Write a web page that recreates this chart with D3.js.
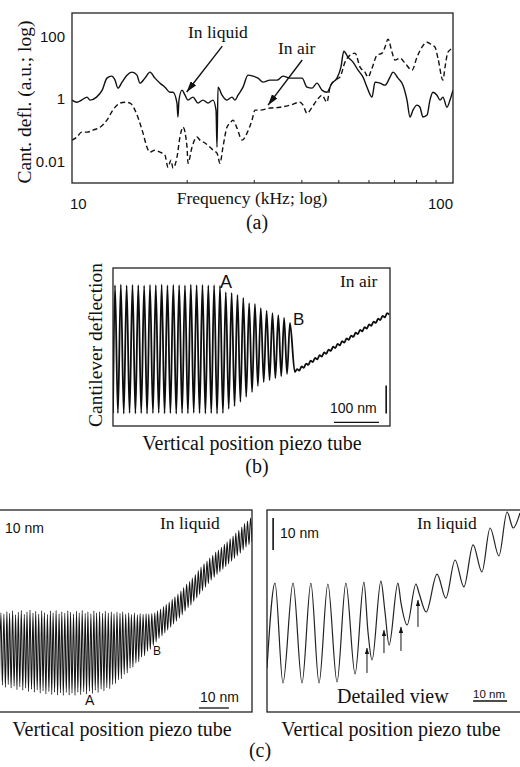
<!DOCTYPE html>
<html>
<head>
<meta charset="utf-8">
<script src="https://cdn.jsdelivr.net/npm/d3@7"></script>
<style>
html, body { margin: 0; padding: 0; background: #fff; }
svg { display: block; }
.serif { font-family: "Liberation Serif", "Times New Roman", serif; fill: #111; }
.sans { font-family: "Liberation Sans", Arial, sans-serif; fill: #111; }
</style>
</head>
<body>
<svg id="fig" width="520" height="767"></svg>
<script>
// ---------- (a) frequency response of the cantilever ----------
const freqLiquid = [10.0,10.3,10.6,10.95,11.15,11.6,12.0,12.35,12.7,12.97,13.2,13.53,13.94,14.37,14.81,15.08,15.54,16.02,16.51,17.02,17.54,18.08,18.41,18.86,18.97,19.09,19.44,19.8,20.16,20.78,21.41,22.07,22.75,23.45,23.88,24.02,24.17,24.76,25.51,26.3,26.78,27.27,28.11,28.97,29.86,30.78,31.72,33.09,34.51,35.8,37.34,38.96,40.16,41.39,42.66,43.95,45.3,46.69,48.12,49.6,50.8,51.7,53.0,54.65,56.33,58.06,59.48,61.3,62.42,64.33,66.3,68.34,69.58,71.72,73.9,75.73,77.12,78.52,80.44,81.9,83.4,85.5,87.0,88.6,90.78,92.5,94.1,96.4,98.2,100];
const deflLiquid = [0.90,0.77,0.90,1.12,0.90,1.12,1.87,4.53,5.25,3.91,2.17,3.37,5.65,7.05,5.65,3.13,4.53,7.05,4.53,3.13,2.33,1.61,1.61,0.72,0.26,0.90,1.87,1.29,0.90,1.12,0.72,0.90,0.72,0.90,0.43,0.028,2.33,1.29,0.90,1.12,0.90,1.29,2.33,5.65,5.25,4.53,3.37,3.91,3.91,5.25,4.53,4.53,4.53,2.33,2.17,3.13,1.87,1.61,3.13,4.53,10.2,33,21.3,14.7,8.17,4.88,2.33,1.12,3.37,3.13,2.7,4.88,7.05,4.53,2.7,0.90,0.26,0.43,0.62,0.53,0.26,0.30,0.90,1.61,1.29,0.90,1.12,0.53,0.90,1.87];
const freqAir = [10.0,10.3,10.6,10.95,11.35,11.85,12.35,12.8,13.37,13.77,14.2,14.63,15.08,15.36,15.73,16.02,16.51,17.02,17.54,17.86,18.19,18.41,18.86,19.2,19.56,20.04,20.16,20.65,21.28,21.67,22.34,23.03,23.45,24.02,24.46,24.9,25.51,25.98,26.46,27.11,27.94,28.8,29.68,30.22,31.15,33.09,35.15,37.34,39.67,40.4,41.39,42.66,43.95,45.3,46.69,47.54,49.0,50.5,52.06,53.67,55.32,57.02,58.75,59.84,61.3,63.17,65.11,66.3,67.52,69.17,70.43,72.6,74.82,78.06,80.44,82.9,85.5,88.1,89.7,91.3,94.1,95.3,97.0,100];
const deflAir = [0.047,0.059,0.085,0.085,0.098,0.122,0.205,0.43,0.72,0.77,0.72,0.43,0.164,0.079,0.028,0.0194,0.0225,0.0194,0.0156,0.0064,0.0108,0.006,0.0134,0.059,0.122,0.028,0.0086,0.028,0.059,0.047,0.038,0.028,0.0225,0.018,0.0086,0.028,0.122,0.164,0.205,0.114,0.047,0.079,0.205,0.43,0.43,0.50,0.53,0.62,0.77,0.62,0.34,0.53,0.90,1.29,0.77,2.33,3.91,4.88,14.7,24.7,28.6,10.2,7.05,4.88,9.46,24.7,28.6,44.5,80,30.8,17.1,19.8,13.7,8.17,21.3,44.5,64,51.5,44.5,19.8,3.91,10.2,30.8,41.3];
const freqLabels = [10, 100];
const freqMinorTicks = [20, 30, 40, 50, 60, 70, 80, 90];
const deflLabels = [100, 1, 0.01];
// arrow annotations: [tailFreq, tailDefl, tipFreq, tipDefl]
const liquidArrow = [24.8, 48, 20.0, 1.63];
const airArrow = [40.2, 17.2, 32.7, 0.62];

// ---------- (b) approach curve in air (piezo position nm, deflection nm) ----------
const bApproachPos = [0,4.4,10.9,17.4,23.9,30.3,36.8,43.3,49.8,56.2,62.7,69.2,75.7,82.2,88.7,95.1,101.6,108.1,114.6,121.0,127.5,134.0,140.5,147.0,153.5,159.9,166.4,172.9,179.4,185.8,192.3,198.8,205.3,211.8,218.3,224.7,231.2,237.7,244.2,250.6,257.1,263.6,270.1,276.6,283.1,289.5,296.0,302.5,309.0,315.4,321.9,328.4,334.9,341.4,347.9,354.3,360.8,367.3,373.8,380.2,386.7,393.2,404];
const bApproachDefl = [46,503,46,505,44,502,47,504,45,503,46,501,44,504,46,503,47,505,45,502,46,504,44,503,46,502,45,505,47,503,46,504,45,502,46,503,44,500,46,478,61,475,71,468,86,457,104,439,121,436,143,421,157,411,164,403,171,396,178,386,186,368,193];
const bContactPos = [404,409,414,419,424,429,434,439,444,449,454,459,464,469,474,479,484,489,494,499,504,509,514,519,524,529,534,539,544,549,554,559,564,569,574,579,584,589,594,599,604,609,614];
const bContactDefl = [193,203,198,213,208,223,218,233,228,243,238,253,248,263,258,273,268,283,278,293,288,303,298,313,308,323,318,333,328,343,338,353,348,363,358,373,368,383,378,393,388,403,398];

// ---------- (c) approach curve in liquid, overview (one entry per oscillation cycle) ----------
const cPeakPos = [0.3,1.3,2.3,3.2,4.2,5.2,6.1,7.1,8.1,9.0,10.0,11.0,11.9,12.9,13.9,14.8,15.8,16.8,17.7,18.7,19.7,20.6,21.6,22.6,23.5,24.5,25.5,26.4,27.4,28.4,29.3,30.3,31.3,32.2,33.2,34.2,35.1,36.1,37.1,38.0,39.0,40.0,40.9,41.9,42.9,43.8,44.8,45.8,46.7,47.7,48.7,49.6,50.6,51.6,52.5,53.5,54.5,55.4,56.4,57.4,58.3,59.3,60.3,61.2,62.2,63.2,64.1,65.1,66.1,67.0,68.0,69.0,69.9,70.9,71.9,72.8,73.8,74.8,75.7,76.7,77.7,78.6,79.6,80.6,81.5,82.5,83.5];
const cPeakMax = [31.0,30.6,31.4,30.8,31.6,30.4,31.2,31.8,30.5,31.3,31.9,30.9,31.5,30.6,31.7,31.1,30.5,31.6,31.0,31.8,30.7,31.4,30.9,31.7,31.2,30.6,31.5,31.0,31.8,30.8,31.3,30.7,31.6,31.0,31.4,30.8,31.5,30.9,31.3,30.7,31.2,30.8,31.3,30.6,31.0,30.5,30.9,30.4,30.8,30.5,30.7,30.6,30.8,31.0,31.6,32.2,33.0,33.7,34.4,35.2,36.0,36.9,37.8,38.9,40.0,40.8,41.9,43.0,44.2,45.3,46.3,47.2,48.1,49.0,50.0,50.6,51.5,52.4,53.2,54.1,55.0,55.9,56.8,57.8,58.9,59.7,60.6];
const cPeakMin = [8.4,7.7,8.6,7.5,8.1,7.0,7.9,6.8,7.5,6.4,7.1,6.2,6.9,5.9,6.6,5.6,6.4,5.5,6.2,5.3,6.0,5.2,6.1,5.3,5.9,5.2,6.2,5.4,6.3,5.6,6.5,5.8,6.8,6.1,7.2,6.6,7.6,7.3,8.6,8.9,10.1,10.4,11.8,12.2,13.7,14.0,15.3,15.7,17.1,17.6,19.0,19.6,20.8,21.9,23.0,23.8,24.7,25.6,26.5,27.5,28.4,29.4,30.4,31.5,32.6,33.4,34.5,35.6,36.7,37.9,39.0,40.1,41.2,42.1,43.0,43.8,44.6,45.4,46.3,47.1,48.0,48.8,49.6,50.6,51.6,52.3,53.1];

// ---------- (c) detailed view (turning points, nm) ----------
const dPos = [0,2.35,4.7,7.65,10.3,12.9,15.3,17.9,20.6,23.2,25.9,28.5,29.7,30.9,33.5,34.7,35.9,38.5,39.4,41.2,43.8,44.7,46.8,50.0,52.6,55.3,57.9,60.6,63.2,65.6,68.2,70.6,72.4,74.4];
const dDefl = [13.75,40.3,9.1,40.3,9.1,40.3,9.1,40.0,9.4,40.3,11.9,40.6,25.0,16.25,40.9,31.25,20.9,40.3,34.1,27.2,40.0,37.2,31.25,43.1,35.6,47.5,39.1,52.2,43.75,57.5,48.75,62.5,57.5,62.2];
// arrows marking the jump-to-contact events: position, tail and tip deflection (nm)
const jumpPos = [29.4, 34.4, 39.4, 44.4];
const jumpTail = [12.2, 18.4, 19.1, 26.6];
const jumpTip = [20.0, 25.6, 26.6, 35.0];

// ---------------------------------------------------------------
const svg = d3.select('#fig');
svg.append('rect').attr('width', 520).attr('height', 767).attr('fill', '#fff');
const defs = svg.append('defs');

function arrowMarker(id, len, half) {
  defs.append('marker').attr('id', id)
    .attr('markerUnits', 'userSpaceOnUse')
    .attr('markerWidth', len).attr('markerHeight', half * 2)
    .attr('refX', len).attr('refY', half).attr('orient', 'auto')
    .append('path').attr('d', `M0,0 L${len},${half} L0,${half * 2} Z`).attr('fill', '#111');
}
arrowMarker('headBig', 11, 3.4);
arrowMarker('headSmall', 6, 2.2);

function clip(id, x, y, w, h) {
  defs.append('clipPath').attr('id', id).append('rect')
    .attr('x', x).attr('y', y).attr('width', w).attr('height', h);
  return `url(#${id})`;
}
function frame(g, x0, x1, y0, y1) {
  g.append('rect').attr('x', x0).attr('y', y0).attr('width', x1 - x0).attr('height', y1 - y0)
    .attr('fill', 'none').attr('stroke', '#222').attr('stroke-width', 1.3);
}
function text(g, cls, str, x, y, size, anchor, rot) {
  const t = g.append('text').attr('class', cls).attr('font-size', size)
    .attr('text-anchor', anchor || 'start').text(str);
  if (rot) t.attr('transform', `translate(${x},${y}) rotate(${rot})`);
  else t.attr('x', x).attr('y', y);
  return t;
}

// ---------- (a) ----------
const xA = d3.scaleLog().domain([10, 100]).range([72, 453]);
const yA = d3.scaleLog().domain([0.002, 550]).range([183, 13]);
const gA = svg.append('g');
const clipA = clip('clipA', 72, 13, 381, 170);
const lineA = d3.line().x(d => xA(d[0])).y(d => yA(d[1])).curve(d3.curveMonotoneX);

gA.append('path').datum(d3.zip(freqLiquid, deflLiquid)).attr('d', lineA)
  .attr('clip-path', clipA).attr('fill', 'none').attr('stroke', '#111').attr('stroke-width', 1.4);
gA.append('path').datum(d3.zip(freqAir, deflAir)).attr('d', lineA)
  .attr('clip-path', clipA).attr('fill', 'none').attr('stroke', '#111').attr('stroke-width', 1.4)
  .attr('stroke-dasharray', '5,3');

const axA = gA.append('g').attr('transform', `translate(0,${yA.range()[0]})`)
  .call(d3.axisBottom(xA).tickValues(freqMinorTicks).tickSize(-3).tickFormat(''));
axA.select('.domain').remove();
axA.selectAll('line').attr('stroke', '#222');
frame(gA, 72, 453, 13, 183);

gA.selectAll('.flab').data(freqLabels).join('text')
  .attr('class', 'sans flab').attr('font-size', 15)
  .attr('x', d => d === 10 ? xA(d) - 2 : xA(d))
  .attr('text-anchor', d => d === 10 ? 'start' : 'end')
  .attr('y', 209).text(d => d);
gA.selectAll('.dlab').data(deflLabels).join('text')
  .attr('class', 'sans dlab').attr('font-size', 15).attr('text-anchor', 'end')
  .attr('x', 65).attr('y', d => yA(d) + 5.5).text(d => d);

text(gA, 'serif', 'Cant. defl. (a.u.; log)', 31, 102, 19.5, 'middle', -90);
text(gA, 'serif', 'Frequency (kHz; log)', 252, 204, 17.5, 'middle');
text(gA, 'serif', '(a)', 257, 229, 20, 'middle');
text(gA, 'serif', 'In liquid', 188, 38, 17.5);
text(gA, 'serif', 'In air', 278, 54, 17.5);
[liquidArrow, airArrow].forEach(a => {
  gA.append('line')
    .attr('x1', xA(a[0])).attr('y1', yA(a[1])).attr('x2', xA(a[2])).attr('y2', yA(a[3]))
    .attr('stroke', '#111').attr('stroke-width', 1.4).attr('marker-end', 'url(#headBig)');
});

// ---------- (b) ----------
const xB = d3.scaleLinear().domain([0, 615.5]).range([113, 390]);
const yB = d3.scaleLinear().domain([0, 564.2]).range([426, 268]);
const gB = svg.append('g');
const clipB = clip('clipB', 113, 268, 277, 158);
const lineB = d3.line().x(d => xB(d[0])).y(d => yB(d[1])).curve(d3.curveMonotoneX);
const bTrace = d3.zip(bApproachPos, bApproachDefl).concat(d3.zip(bContactPos, bContactDefl).slice(1));
gB.append('path').datum(bTrace).attr('d', lineB).attr('clip-path', clipB)
  .attr('fill', 'none').attr('stroke', '#0d0d0d').attr('stroke-width', 1.8);
frame(gB, 113, 390, 268, 426);

// 100 nm scale bars
const bBarX = 491, bBarY = 13;
gB.append('line').attr('x1', xB(bBarX)).attr('x2', xB(bBarX + 100))
  .attr('y1', yB(bBarY)).attr('y2', yB(bBarY)).attr('stroke', '#111').attr('stroke-width', 1.4);
gB.append('line').attr('x1', xB(607)).attr('x2', xB(607))
  .attr('y1', yB(45)).attr('y2', yB(145)).attr('stroke', '#111').attr('stroke-width', 1.6);
text(gB, 'sans', '100 nm', 330, 413, 14);
text(gB, 'sans', 'A', 220, 288, 18);
text(gB, 'sans', 'B', 293, 325, 17);
text(gB, 'serif', 'In air', 340, 287, 17.5);
text(gB, 'serif', 'Cantilever deflection', 102, 345, 19.5, 'middle', -90);
text(gB, 'serif', 'Vertical position piezo tube', 252, 450, 20, 'middle');
text(gB, 'serif', '(b)', 257, 473, 20, 'middle');

// ---------- (c) overview ----------
const yC = d3.scaleLinear().domain([0, 63.125]).range([712, 510]);
const xCL = d3.scaleLinear().domain([0, 84]).range([0, 252]);
const gCL = svg.append('g');
const clipCL = clip('clipCL', -10, 510, 262, 202);
const cTrace = [];
cPeakPos.forEach((p, i) => {
  const gap = i < cPeakPos.length - 1 ? cPeakPos[i + 1] - p : p - cPeakPos[i - 1];
  if (i === 0) cTrace.push([p - gap / 2, cPeakMin[0]]);
  cTrace.push([p, cPeakMax[i]]);
  cTrace.push([p + gap / 2, cPeakMin[i]]);
});
const lineCL = d3.line().x(d => xCL(d[0])).y(d => yC(d[1])).curve(d3.curveMonotoneX);
gCL.append('path').datum(cTrace).attr('d', lineCL).attr('clip-path', clipCL)
  .attr('fill', 'none').attr('stroke', '#151515').attr('stroke-width', 1.05);
frame(gCL, -10, 252, 510, 712);
gCL.append('line').attr('x1', xCL(66.3)).attr('x2', xCL(76.3)).attr('y1', 708).attr('y2', 708)
  .attr('stroke', '#111').attr('stroke-width', 1.3);
text(gCL, 'sans', '10 nm', 5, 533, 14);
text(gCL, 'sans', '10 nm', 200, 702, 14);
text(gCL, 'sans', 'A', 85, 705, 14);
text(gCL, 'sans', 'B', 153, 655, 12);
text(gCL, 'serif', 'In liquid', 160, 529, 17.5);
text(gCL, 'serif', 'Vertical position piezo tube', 122, 736, 20, 'middle');

// ---------- (c) detailed view ----------
const xCR = d3.scaleLinear().domain([0, 74.4]).range([267, 520]);
const gCR = svg.append('g');
const clipCR = clip('clipCR', 267, 510, 260, 202);
const lineCR = d3.line().x(d => xCR(d[0])).y(d => yC(d[1])).curve(d3.curveMonotoneX);
gCR.append('path').datum(d3.zip(dPos, dDefl)).attr('d', lineCR).attr('clip-path', clipCR)
  .attr('fill', 'none').attr('stroke', '#222').attr('stroke-width', 1.2);
frame(gCR, 267, 530, 510, 712);
jumpPos.forEach((p, i) => {
  gCR.append('line').attr('x1', xCR(p)).attr('x2', xCR(p))
    .attr('y1', yC(jumpTail[i])).attr('y2', yC(jumpTip[i]))
    .attr('stroke', '#111').attr('stroke-width', 1).attr('marker-end', 'url(#headSmall)');
});
gCR.append('line').attr('x1', xCR(1.8)).attr('x2', xCR(1.8)).attr('y1', yC(60.6)).attr('y2', yC(50.6))
  .attr('stroke', '#111').attr('stroke-width', 1.6);
gCR.append('line').attr('x1', xCR(60.6)).attr('x2', xCR(70.6)).attr('y1', 701).attr('y2', 701)
  .attr('stroke', '#111').attr('stroke-width', 1.3);
text(gCR, 'sans', '10 nm', 280, 538, 14);
text(gCR, 'sans', '10 nm', 473, 698, 11.5);
text(gCR, 'serif', 'In liquid', 417, 529, 17.5);
text(gCR, 'serif', 'Detailed view', 337, 703, 20);
text(gCR, 'serif', 'Vertical position piezo tube', 391, 736, 20, 'middle');
text(svg, 'serif', '(c)', 260, 757, 20, 'middle');
</script>
</body>
</html>
